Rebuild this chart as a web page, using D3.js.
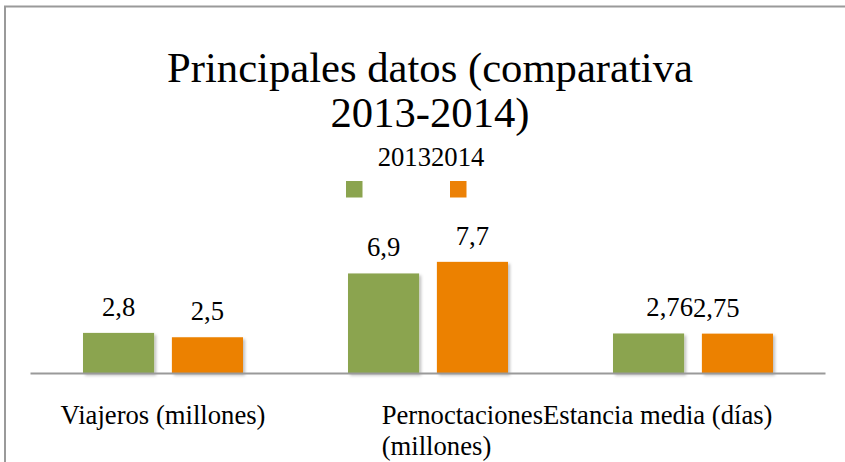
<!DOCTYPE html>
<html>
<head>
<meta charset="utf-8">
<script src="https://cdn.jsdelivr.net/npm/d3@7"></script>
<style>
  html, body { margin: 0; padding: 0; background: #fff; }
  svg { display: block; }
</style>
</head>
<body>
<svg id="chart" width="845" height="462" font-family="'Liberation Serif', 'Times New Roman', Times, serif"></svg>
<script>
// ---- data ----
const titleLines = ["Principales datos (comparativa", "2013-2014)"];
const categories = ["Viajeros (millones)", "Pernoctaciones (millones)", "Estancia media (días)"];
const series = ["2013", "2014"];
const values2013 = [2.8, 6.9, 2.76];
const values2014 = [2.5, 7.7, 2.75];
const colors = ["#8ba44f", "#ec8106"];

const svg = d3.select("#chart");

const defs = svg.append("defs");
const f = defs.append("filter").attr("id", "shadow")
  .attr("x", "-20%").attr("y", "-20%").attr("width", "150%").attr("height", "150%");
f.append("feDropShadow").attr("dx", 2).attr("dy", 2).attr("stdDeviation", 1.5)
  .attr("flood-color", "#000").attr("flood-opacity", 0.25);

// outer border (extends past right/bottom edges)
svg.append("rect").attr("x", 5).attr("y", 6.5).attr("width", 1000).attr("height", 1000)
  .attr("fill", "none").attr("stroke", "#9a9a9a").attr("stroke-width", 2);

// title
svg.append("text").attr("text-anchor", "middle").attr("font-size", 42.67).attr("fill", "#000")
  .selectAll("tspan").data(titleLines).join("tspan")
  .attr("x", 430).attr("y", (d, i) => 81.7 + i * 45).text(d => d);

// scales
const x0 = d3.scaleBand().domain(categories).range([30.5, 825.5]).padding(0);
const x1 = d3.scaleBand().domain(series).range([52.5, 212.5]).paddingInner(0.2);
const y = d3.scaleLinear().domain([0, 8]).range([373.5, 373.5 - 8 * 14.5]);

const rows = categories.map((c, i) => ({ cat: c, vals: [values2013[i], values2014[i]] }));

// legend
const legendText = svg.append("text").attr("text-anchor", "middle").attr("font-size", 26.67)
  .attr("x", 431).attr("y", 166);
legendText.selectAll("tspan").data(series).join("tspan").text(d => d);
const lx = d3.scalePoint().domain(series).range([346, 450]);
svg.selectAll("rect.leg").data(series).join("rect").attr("class", "leg")
  .attr("x", d => lx(d)).attr("y", 181).attr("width", 16.5).attr("height", 16.5)
  .attr("fill", (d, i) => colors[i]);

// bars
const groups = svg.selectAll("g.grp").data(rows).join("g").attr("class", "grp")
  .attr("transform", d => `translate(${x0(d.cat)},0)`);

groups.selectAll("rect").data(d => d.vals.map((v, j) => ({ v, s: series[j], j })))
  .join("rect")
  .attr("x", d => x1(d.s)).attr("width", x1.bandwidth())
  .attr("y", d => y(d.v)).attr("height", d => y(0) - y(d.v))
  .attr("fill", d => colors[d.j]).attr("filter", "url(#shadow)");

// value labels
const fmt = v => String(v).replace(".", ",");
groups.each(function (d) {
  const g = d3.select(this);
  const labels = d.vals.map((v, j) => g.append("text").attr("font-size", 26.67)
    .attr("text-anchor", "middle")
    .attr("x", x1(series[j]) + x1.bandwidth() / 2)
    .attr("y", y(v) - 17).text(fmt(v)));
  const wide = labels.some(t => t.node().getComputedTextLength() > 0.6 * x1.bandwidth());
  if (wide) {
    const mid = x0.bandwidth() / 2;
    labels[0].attr("text-anchor", "end").attr("x", mid);
    labels[1].attr("text-anchor", "start").attr("x", mid);
  }
});

// axis baseline
svg.append("line").attr("x1", x0.range()[0]).attr("x2", x0.range()[1])
  .attr("y1", y(0)).attr("y2", y(0)).attr("stroke", "#9a9a9a").attr("stroke-width", 2);

// category labels
const catY = 424.3, lineH = 31;
svg.append("text").attr("font-size", 26.67).attr("text-anchor", "middle")
  .attr("x", x0(categories[0]) + x0.bandwidth() / 2).attr("y", catY).text(categories[0]);

const c2 = categories[1].split(" ");
const t2 = svg.append("text").attr("font-size", 26.67).attr("text-anchor", "start");
const c2x = x0(categories[1]) + x0.bandwidth() / 2 - 46.3;
t2.selectAll("tspan").data([c2[0], c2.slice(1).join(" ")]).join("tspan")
  .attr("x", c2x).attr("y", (d, i) => catY + i * lineH).text(d => d);
const firstW = t2.select("tspan").node().getComputedTextLength();
svg.append("text").attr("font-size", 26.67).attr("text-anchor", "start")
  .attr("x", c2x + firstW).attr("y", catY).text(categories[2]);
</script>
</body>
</html>
